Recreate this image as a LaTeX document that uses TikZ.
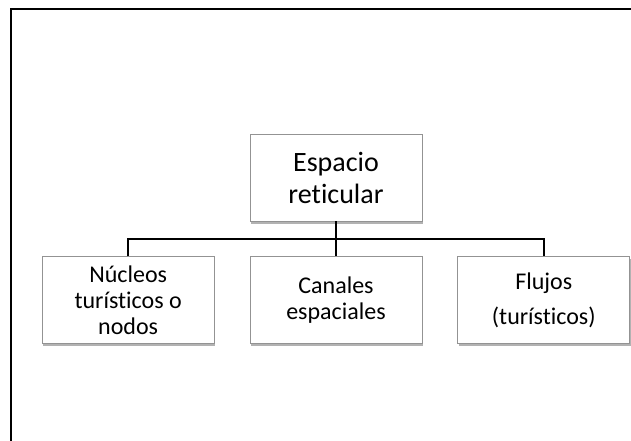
\documentclass[tikz,border=0pt]{standalone}
\usepackage{fontspec}
\setmainfont{Carlito}[RawFeature={-liga;-clig;-dlig;-calt;-hlig}]
\usetikzlibrary{positioning,calc,shadows}

\tikzset{
  box/.style={draw=gray!85, line width=0.8pt, fill=white, minimum width=172pt, minimum height=87pt,
    align=center, inner sep=0pt, font=\fontsize{24}{26}\selectfont,
    drop shadow={shadow xshift=1pt, shadow yshift=-2.5pt, opacity=0.3, fill=black}},
  link/.style={draw=black, line width=2.2pt},
}

\begin{document}
\begin{tikzpicture}[x=1pt,y=1pt,node distance=35pt]
    \useasboundingbox (0,0) rectangle (631,-440);
    \clip (0,0) rectangle (631,-440);
    % outer frame, only top and left edges fall inside the page
    \draw[line width=1.8pt] (11,-450) |- (640,-9);

    \node (espacio) [box, font=\fontsize{28}{32}\selectfont] at (336,-177.5) {Espacio\\reticular};
    \node (canales) [box, below=of espacio] {Canales\\espaciales};
    \node (nucleos) [box, left=of canales] {Núcleos\\turísticos o\\nodos};
    \node (flujos) [box, right=of canales] {Flujos\\[9pt](turísticos)};

    \draw[link] (espacio) -- (canales);
    \draw[link] (nucleos.north) |- ($(espacio.south)!.5!(canales.north)$) -| (flujos.north);
\end{tikzpicture}
\end{document}
